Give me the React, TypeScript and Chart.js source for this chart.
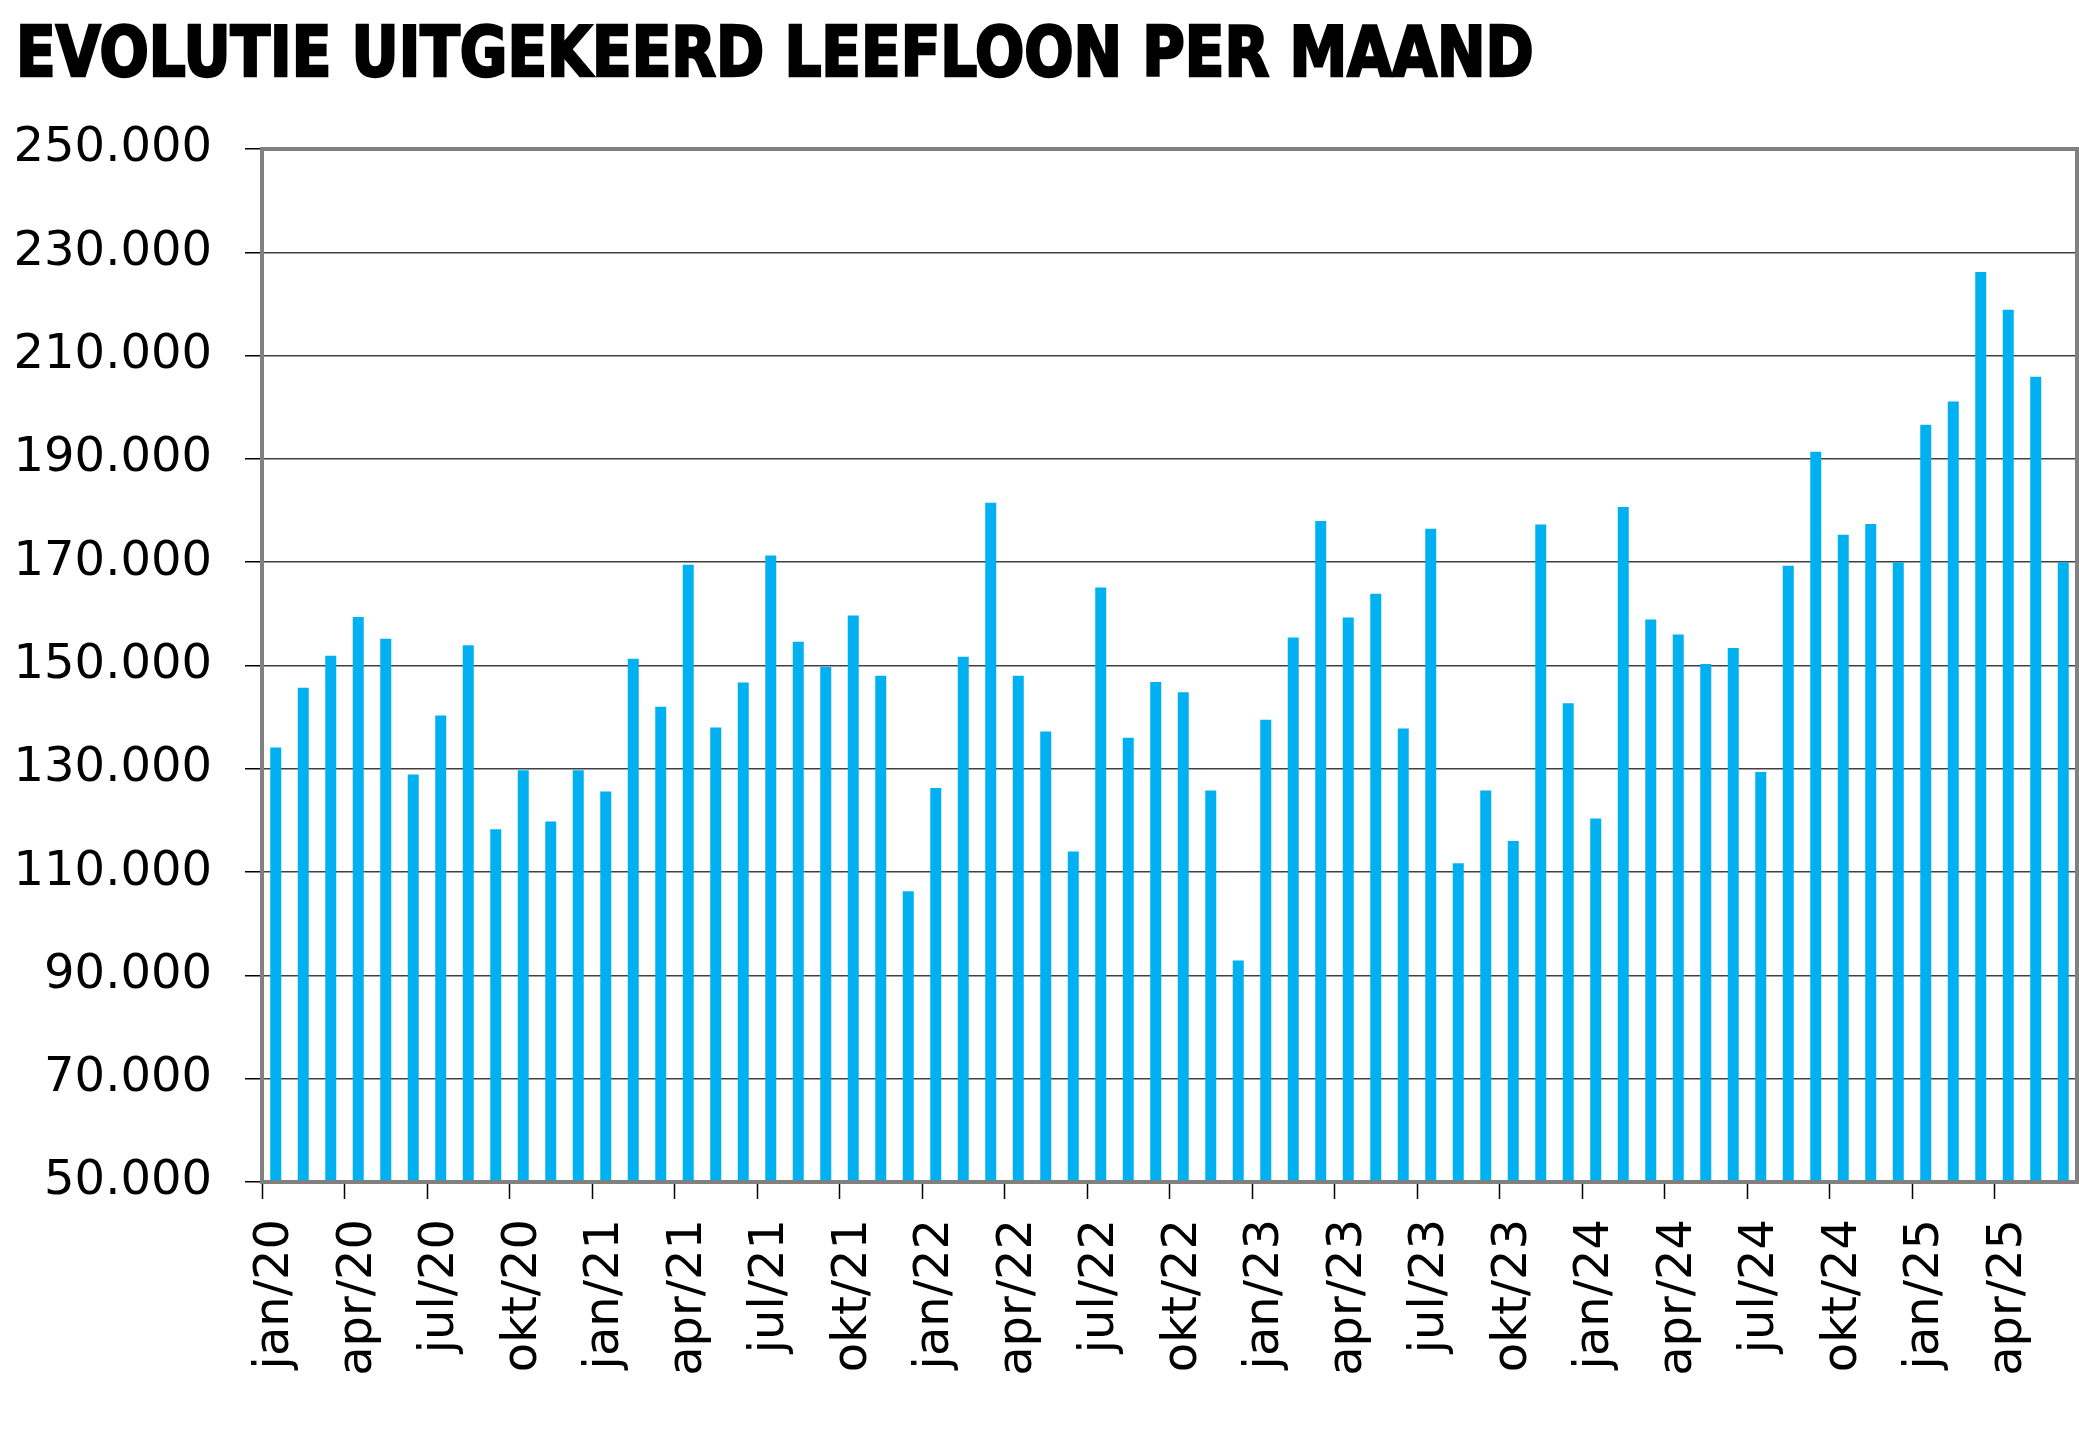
import React, { useEffect, useLayoutEffect, useRef } from 'react';
import { Chart, registerables } from 'chart.js';

Chart.register(...registerables);

const TITLE = 'EVOLUTIE UITGEKEERD LEEFLOON PER MAAND';
const MONTHS = ['jan', 'feb', 'mrt', 'apr', 'mei', 'jun', 'jul', 'aug', 'sep', 'okt', 'nov', 'dec'];
const YEARS = ['20', '21', '22', '23', '24', '25'];
const CATEGORIES = YEARS.flatMap((y) => MONTHS.map((m) => `${m}/${y}`)).slice(0, 66);

const VALUES = [
  134100, 145700, 151900, 159400, 155200, 128900, 140300, 153900, 118300, 129700, 119800, 129700,
  125600, 151300, 142000, 169500, 138000, 146700, 171300, 154600, 149700, 159700, 148000, 106300,
  126300, 151700, 181500, 148000, 137200, 114000, 165100, 136000, 146800, 144800, 125800, 92900,
  139500, 155400, 178000, 159300, 163900, 137800, 176500, 111700, 125800, 116000, 177300, 142700,
  120400, 180700, 158900, 156000, 150300, 153400, 129400, 169300, 191400, 175300, 177400, 170000,
  196600, 201100, 226200, 218900, 205900, 170000,
];

const Y_MIN = 50000;
const Y_MAX = 250000;
const Y_STEP = 20000;

const fmt = (v: number) => String(Math.round(v)).replace(/\B(?=(\d{3})+(?!\d))/g, '.');

const framePlugin = {
  id: 'frame',
  afterDraw(chart: any) {
    const { ctx, chartArea } = chart;
    const { left, top, right, bottom } = chartArea;
    ctx.save();
    ctx.strokeStyle = '#808080';
    ctx.lineWidth = 4;
    ctx.strokeRect(left, top, right - left, bottom - top);
    ctx.restore();
  },
};

export default function App() {
  const canvasRef = useRef<HTMLCanvasElement | null>(null);
  const titleRef = useRef<HTMLDivElement | null>(null);

  useLayoutEffect(() => {
    const el = titleRef.current;
    if (el) {
      const w = el.scrollWidth;
      if (w > 0) el.style.transform = `scaleX(${1518 / w})`;
    }
  }, []);

  useEffect(() => {
    if (!canvasRef.current) return;
    const tickFont = { family: '"DejaVu Sans", sans-serif', size: 48 };
    const chart = new Chart(canvasRef.current, {
      type: 'bar',
      data: {
        labels: CATEGORIES,
        datasets: [
          {
            data: VALUES,
            backgroundColor: '#00B0F0',
            borderWidth: 0,
            barPercentage: 0.4,
            categoryPercentage: 1.0,
          },
        ],
      },
      options: {
        responsive: false,
        animation: false,
        devicePixelRatio: 1,
        layout: { padding: { top: 149, right: 2, left: 0, bottom: 0 } },
        plugins: { legend: { display: false }, tooltip: { enabled: false }, title: { display: false } },
        scales: {
          x: {
            type: 'category',
            offset: true,
            border: { display: false },
            grid: {
              offset: true,
              drawOnChartArea: false,
              drawTicks: true,
              tickLength: 17,
              tickWidth: 1.5,
              tickColor: (ctx: any) => (ctx.index % 3 === 0 && ctx.index < CATEGORIES.length ? '#000' : 'rgba(0,0,0,0)'),
            },
            ticks: {
              autoSkip: false,
              minRotation: 90,
              maxRotation: 90,
              padding: 20,
              color: '#000',
              font: tickFont,
              callback: (_v: any, i: number) => (i % 3 === 0 ? CATEGORIES[i] : ''),
            },
            afterFit: (scale: any) => {
              scale.height = 261;
              scale.paddingLeft = 0;
              scale.paddingRight = 0;
            },
          },
          y: {
            min: Y_MIN,
            max: Y_MAX,
            border: { display: false },
            grid: {
              color: '#404040',
              lineWidth: 1.5,
              tickLength: 17,
              tickColor: '#000',
              tickWidth: 1.5,
            },
            ticks: {
              stepSize: Y_STEP,
              padding: 33,
              color: '#000',
              font: tickFont,
              callback: (v: any) => fmt(Number(v)),
            },
            afterFit: (scale: any) => {
              scale.width = 262;
              scale.paddingTop = 0;
              scale.paddingBottom = 0;
            },
          },
        },
      },
      plugins: [framePlugin],
    } as any);
    return () => chart.destroy();
  }, []);

  return (
    <div style={{ position: 'absolute', left: 0, top: 0, width: 2079, height: 1443, background: '#fff', overflow: 'hidden' }}>
      <canvas ref={canvasRef} width={2079} height={1443} style={{ position: 'absolute', left: 0, top: 0, display: 'block' }} />
      <div
        ref={titleRef}
        style={{
          position: 'absolute',
          left: 16,
          top: 18,
          fontFamily: '"DejaVu Sans Condensed", "DejaVu Sans", sans-serif',
          fontStretch: 'condensed',
          fontWeight: 'bold',
          fontSize: 69,
          lineHeight: '69px',
          whiteSpace: 'nowrap',
          display: 'inline-block',
          transformOrigin: '0 0',
          color: '#000',
          WebkitTextStroke: '2.5px #000',
        }}
      >
        {TITLE}
      </div>
    </div>
  );
}
